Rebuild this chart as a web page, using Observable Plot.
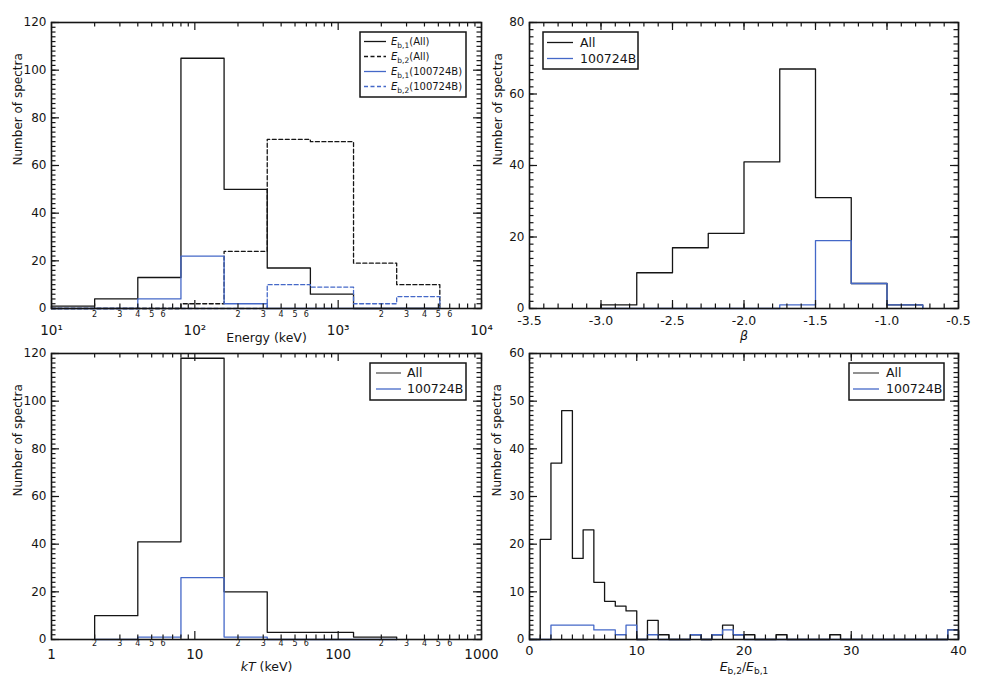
<!DOCTYPE html>
<html><head><meta charset="utf-8">
<script src="https://cdn.jsdelivr.net/npm/d3@7"></script>
<script src="https://cdn.jsdelivr.net/npm/@observablehq/plot@0.6"></script>
<style>
body{margin:0;background:#fff;}
#wrap{position:relative;width:981px;height:688px;font-family:"DejaVu Sans",sans-serif;overflow:hidden;background:#fff;}
.panel{position:absolute;}
#overlay{position:absolute;left:0;top:0;pointer-events:none;}
</style></head><body><div id="wrap"></div>
<script>
// ---------- Panel A: break energies (keV), bins a factor of 2 wide ----------
const energyEdges = [10, 20, 40, 80, 160, 320, 640, 1280, 2560, 5120];
const eb1All      = [1, 4, 13, 105, 50, 17, 6, 0, 0];
const eb2All      = [0, 0, 0, 2, 24, 71, 70, 19, 10];
const eb1Burst    = [0, 0, 4, 22, 2, 0, 0, 0, 0];
const eb2Burst    = [0, 0, 0, 0, 0, 10, 9, 2, 5];

// ---------- Panel B: beta ----------
const betaEdges = [-3.0, -2.75, -2.5, -2.25, -2.0, -1.75, -1.5, -1.25, -1.0, -0.75];
const betaAll   = [1, 10, 17, 21, 41, 67, 31, 7, 1];
const betaBurst = [0, 0, 0, 0, 0, 1, 19, 7, 1];

// ---------- Panel C: kT (keV) ----------
const kTEdges = [2, 4, 8, 16, 32, 64, 128, 256];
const kTAll   = [10, 41, 118, 20, 3, 3, 1];
const kTBurst = [0, 1, 26, 1, 0, 0, 0];

// ---------- Panel D: Eb,2 / Eb,1 ----------
const ratioEdges = [0,1,2,3,4,5,6,7,8,9,10,11,12,13,14,15,16,17,18,19,20,21,22,23,24,25,26,27,28,29,30,31,32,33,34,35,36,37,38,39,40];
const ratioAll   = [0,21,37,48,17,23,12,8,7,6,0,4,1,0,0,1,0,1,3,1,1,0,0,1,0,0,0,0,1,0,0,0,0,0,0,0,0,0,0,2];
const ratioBurst = [0,0,3,3,3,3,2,2,1,3,0,1,0,0,0,1,0,1,2,1,0,0,0,0,0,0,0,0,0,0,0,0,0,0,0,0,0,0,0,2];

// ---------- tick labels ----------
const energyDecades = [10, 100, 1000, 10000];
const kTDecades     = [1, 10, 100, 1000];
const minorDigits   = [2, 3, 4, 5, 6, 7, 8, 9];
const minorLabelDigits = [2, 3, 4, 5, 6];
const supDigits = {0:"⁰",1:"¹",2:"²",3:"³",4:"⁴"};

const BLACK = "#151515", BLUE = "#4468c8";

function steps(edges, counts) {
  const pts = [{x: edges[0], y: 0}];
  counts.forEach((c, i) => { pts.push({x: edges[i], y: c}); pts.push({x: edges[i + 1], y: c}); });
  pts.push({x: edges[edges.length - 1], y: 0});
  return pts;
}
function logMinor(decades, digits) { return decades.slice(0, -1).flatMap(d => digits.map(k => k * d)); }
// inward ticks on all four sides
function tickMarks(xMajor, xMinor, yMajor, yMinor, fw, fh) {
  const MJ = 8, MN = 4.5, st = {stroke: BLACK, strokeWidth: 1.2};
  const m = [];
  for (const [vals, len] of [[xMajor, MJ], [xMinor, MN]]) {
    m.push(Plot.ruleX(vals, {x: d => d, insetTop: fh - len, ...st}));
    m.push(Plot.ruleX(vals, {x: d => d, insetBottom: fh - len, ...st}));
  }
  for (const [vals, len] of [[yMajor, MJ], [yMinor, MN]]) {
    m.push(Plot.ruleY(vals, {y: d => d, insetRight: fw - len, ...st}));
    m.push(Plot.ruleY(vals, {y: d => d, insetLeft: fw - len, ...st}));
  }
  return m;
}
const lineOpts = (stroke, dashed) => ({x: "x", y: "y", stroke, strokeWidth: 1.3, strokeDasharray: dashed ? "4,2.5" : null});
const richText = {
  "kT (keV)": '<tspan font-style="italic">kT</tspan> (keV)',
  "Eb,2/Eb,1": '<tspan font-style="italic">E</tspan><tspan dy="3" font-size="9">b,2</tspan><tspan dy="-3">/</tspan><tspan font-style="italic">E</tspan><tspan dy="3" font-size="9">b,1</tspan>'
};
const wrap = document.getElementById("wrap");
function addPanel(cfg) {
  const fw = cfg.width - cfg.ml - cfg.mr, fh = cfg.height - cfg.mt - cfg.mb;
  const svg = Plot.plot({
    width: cfg.width, height: cfg.height,
    marginLeft: cfg.ml, marginRight: cfg.mr, marginTop: cfg.mt, marginBottom: cfg.mb,
    style: {background: "transparent", overflow: "visible", fontFamily: "DejaVu Sans, sans-serif", fontSize: "12px", color: BLACK},
    x: {...cfg.x, label: null},
    y: {...cfg.y, label: null},
    marks: [
      ...cfg.series.map(s => Plot.line(steps(s.edges, s.counts), lineOpts(s.stroke, s.dashed))),
      ...tickMarks(cfg.xMajor, cfg.xMinor, cfg.yMajor, cfg.yMinor, fw, fh),
      Plot.axisY({ticks: cfg.yMajor, tickSize: 0, tickPadding: 5, fontSize: 12, label: null, tickFormat: d => String(d)}),
      Plot.axisX({ticks: cfg.xMajor, tickSize: 0, tickPadding: cfg.xPad, fontSize: cfg.xFont, label: null, tickFormat: cfg.xFormat}),
      ...(cfg.minorLabels ? [Plot.text(cfg.minorLabels, {x: d => d, frameAnchor: "bottom", dy: cfg.minorDy, text: d => String(Math.round(d / 10 ** Math.floor(Math.log10(d) + 1e-9))), fontSize: 8})] : []),
      Plot.text(["Number of spectra"], {frameAnchor: "left", rotate: -90, dx: cfg.yTitleDx, text: d => d, fontSize: 12}),
      Plot.text([cfg.xTitle], {frameAnchor: "bottom", dy: cfg.xTitleDy, text: d => d, fontSize: 12.5, fontStyle: cfg.xTitleItalic ? "italic" : null}),
      Plot.frame({stroke: BLACK, strokeWidth: 1.6})
    ]
  });
  d3.select(svg).selectAll("text").each(function () {
    if (richText[this.textContent]) this.innerHTML = richText[this.textContent];
  });
  const div = document.createElement("div");
  div.className = "panel";
  div.style.left = cfg.left + "px"; div.style.top = cfg.top + "px";
  div.appendChild(svg);
  wrap.appendChild(div);
}
addPanel({
  left: 0, top: 0, width: 490, height: 345, ml: 51, mr: 9, mt: 22, mb: 37,
  x: {type: "log", domain: [10, 10000]}, y: {domain: [0, 120]},
  series: [
    {edges: energyEdges, counts: eb1All, stroke: BLACK},
    {edges: energyEdges, counts: eb2All, stroke: BLACK, dashed: true},
    {edges: energyEdges, counts: eb1Burst, stroke: BLUE},
    {edges: energyEdges, counts: eb2Burst, stroke: BLUE, dashed: true}
  ],
  xMajor: energyDecades, xMinor: logMinor(energyDecades, minorDigits),
  yMajor: d3.range(0, 121, 20), yMinor: d3.range(0, 121, 2),
  xPad: 17, xFont: 13.5, xFormat: d => "10" + supDigits[Math.round(Math.log10(d))],
  minorLabels: logMinor(energyDecades, minorLabelDigits), minorDy: 8,
  yTitleDx: -33, xTitle: "Energy (keV)", xTitleDy: 33
});
addPanel({
  left: 490, top: 0, width: 491, height: 345, ml: 39, mr: 23, mt: 22, mb: 37,
  x: {domain: [-3.5, -0.5]}, y: {domain: [0, 80]},
  series: [
    {edges: betaEdges, counts: betaAll, stroke: BLACK},
    {edges: betaEdges, counts: betaBurst, stroke: BLUE}
  ],
  xMajor: d3.range(-3.5, -0.49, 0.5), xMinor: d3.range(-3.5, -0.49, 0.1),
  yMajor: d3.range(0, 81, 20), yMinor: d3.range(0, 81, 2),
  xPad: 8, xFont: 12.5, xFormat: d => d.toFixed(1),
  yTitleDx: -31.5, xTitle: "β", xTitleDy: 31, xTitleItalic: true
});
addPanel({
  left: 0, top: 340, width: 490, height: 348, ml: 51, mr: 9, mt: 13, mb: 49,
  x: {type: "log", domain: [1, 1000]}, y: {domain: [0, 120]},
  series: [
    {edges: kTEdges, counts: kTAll, stroke: BLACK},
    {edges: kTEdges, counts: kTBurst, stroke: BLUE}
  ],
  xMajor: kTDecades, xMinor: logMinor(kTDecades, minorDigits),
  yMajor: d3.range(0, 121, 20), yMinor: d3.range(0, 121, 2),
  xPad: 10, xFont: 13.5, xFormat: d => String(d),
  minorLabels: logMinor(kTDecades, minorLabelDigits), minorDy: 6.5,
  yTitleDx: -33, xTitle: "kT (keV)", xTitleDy: 31
});
addPanel({
  left: 490, top: 340, width: 491, height: 348, ml: 39, mr: 23, mt: 13, mb: 49,
  x: {domain: [0, 40]}, y: {domain: [0, 60]},
  series: [
    {edges: ratioEdges, counts: ratioAll, stroke: BLACK},
    {edges: ratioEdges, counts: ratioBurst, stroke: BLUE}
  ],
  xMajor: d3.range(0, 41, 10), xMinor: d3.range(0, 41, 1),
  yMajor: d3.range(0, 61, 10), yMinor: d3.range(0, 61, 1),
  xPad: 6, xFont: 13, xFormat: d => String(d),
  yTitleDx: -32, xTitle: "Eb,2/Eb,1", xTitleDy: 31
});
// ---------- legends ----------
const overlay = d3.select(wrap).append("svg").attr("id", "overlay").attr("width", 981).attr("height", 688)
  .style("font-family", "DejaVu Sans, sans-serif");
function legend(box, rows, opt) {
  overlay.append("rect").attr("x", box[0]).attr("y", box[1]).attr("width", box[2]).attr("height", box[3])
    .attr("fill", "#fff").attr("stroke", BLACK).attr("stroke-width", 1.5);
  rows.forEach((r, i) => {
    const y = opt.y0 + i * opt.dy;
    overlay.append("line").attr("x1", opt.lx1).attr("x2", opt.lx2).attr("y1", y).attr("y2", y)
      .attr("stroke", r.stroke).attr("stroke-width", 1.3).attr("stroke-dasharray", r.dashed ? "4,2.5" : null);
    overlay.append("text").attr("x", opt.tx).attr("y", y).attr("dy", "0.35em")
      .attr("font-size", opt.fs).attr("fill", BLACK).html(r.label);
  });
}
const sub = (s) => `<tspan font-style="italic">E</tspan><tspan dy="2.5" font-size="7.5">${s}</tspan>`;
legend([360, 32, 106, 65], [
  {stroke: BLACK, label: sub("b,1") + '<tspan dy="-2.5">(All)</tspan>'},
  {stroke: BLACK, dashed: true, label: sub("b,2") + '<tspan dy="-2.5">(All)</tspan>'},
  {stroke: BLUE, label: sub("b,1") + '<tspan dy="-2.5">(100724B)</tspan>'},
  {stroke: BLUE, dashed: true, label: sub("b,2") + '<tspan dy="-2.5">(100724B)</tspan>'}
], {y0: 41.5, dy: 15, lx1: 364, lx2: 386, tx: 391, fs: 10});
legend([543, 32, 95, 37], [{stroke: BLACK, label: "All"}, {stroke: BLUE, label: "100724B"}], {y0: 42.5, dy: 16, lx1: 547, lx2: 573, tx: 580, fs: 12.5});
legend([370, 363, 96, 37], [{stroke: "#555", label: "All"}, {stroke: BLUE, label: "100724B"}], {y0: 373, dy: 16, lx1: 376, lx2: 401, tx: 407, fs: 12.5});
legend([849, 363, 95, 37], [{stroke: "#555", label: "All"}, {stroke: BLUE, label: "100724B"}], {y0: 373, dy: 16, lx1: 853, lx2: 879, tx: 886, fs: 12.5});
</script></body></html>
